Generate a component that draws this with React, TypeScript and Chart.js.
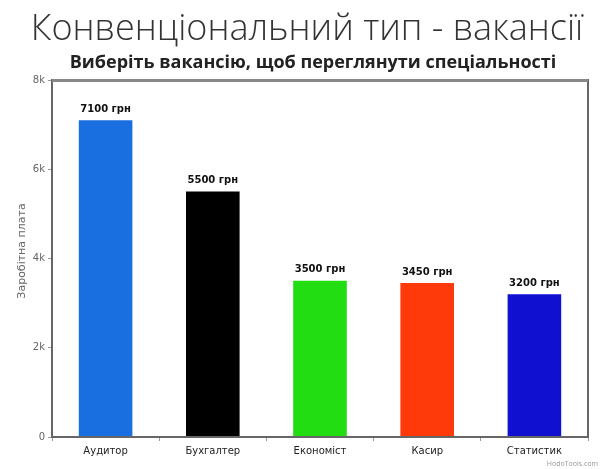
import React, { useEffect, useRef } from "react";
import { Chart, registerables } from "chart.js";

Chart.register(...registerables);

const categories = ["Аудитор", "Бухгалтер", "Економіст", "Касир", "Статистик"];
const salaries = [7100, 5500, 3500, 3450, 3200];
const valueLabels = ["7100 грн", "5500 грн", "3500 грн", "3450 грн", "3200 грн"];
const barColors = ["#1a6fe0", "#000000", "#22dd11", "#ff3a0a", "#1010d0"];
const yTickValues = [0, 2000, 4000, 6000, 8000];
const yTickLabels = ["0", "2k", "4k", "6k", "8k"];
const titleText = "Конвенціональний тип - вакансії";
const subtitleText = "Виберіть вакансію, щоб переглянути спеціальності";
const yAxisTitle = "Заробітна плата";
const footerText = "HodoTools.com";

const decorPlugin = {
  id: "decor",
  afterDraw(chart: any) {
    const { ctx, chartArea } = chart;
    ctx.save();
    // titles
    ctx.textAlign = "center";
    ctx.textBaseline = "alphabetic";
    ctx.fillStyle = "#333333";
    ctx.font = "300 36px 'Open Sans'";
    ctx.fillText(titleText, 307, 40);
    ctx.fillStyle = "#222222";
    ctx.font = "bold 18px 'Open Sans'";
    ctx.fillText(subtitleText, 313, 68);
    // frame
    ctx.strokeStyle = "#666666";
    ctx.lineWidth = 2;
    ctx.strokeRect(chartArea.left, chartArea.top, chartArea.right - chartArea.left, chartArea.bottom - chartArea.top);
    ctx.fillStyle = "#888888";
    ctx.fillRect(chartArea.left, chartArea.top - 1, chartArea.right - chartArea.left, 3);
    // value labels
    const meta = chart.getDatasetMeta(0);
    ctx.fillStyle = "#111111";
    ctx.font = "bold 10px 'DejaVu Sans'";
    ctx.textBaseline = "bottom";
    meta.data.forEach((bar: any, i: number) => {
      ctx.fillText(valueLabels[i], bar.x, bar.y - 6);
    });
    // y axis title
    ctx.save();
    ctx.translate(22, 251);
    ctx.rotate(-Math.PI / 2);
    ctx.textBaseline = "middle";
    ctx.fillStyle = "#666666";
    ctx.font = "11px 'DejaVu Sans'";
    ctx.fillText(yAxisTitle, 0, 0);
    ctx.restore();
    // footer
    ctx.textAlign = "right";
    ctx.textBaseline = "middle";
    ctx.fillStyle = "#999999";
    ctx.font = "7px 'Open Sans'";
    ctx.fillText(footerText, 598, 464);
    ctx.restore();
  },
};

export default function App() {
  const ref = useRef<HTMLCanvasElement>(null);
  useEffect(() => {
    document.body.style.margin = "0";
    const chart = new Chart(ref.current!, {
      type: "bar",
      data: {
        labels: categories,
        datasets: [
          {
            data: salaries,
            backgroundColor: barColors,
            categoryPercentage: 1,
            barPercentage: 0.5,
          },
        ],
      },
      options: {
        animation: false,
        responsive: false,
        devicePixelRatio: 1,
        layout: { padding: { top: 80, right: 13, left: 0, bottom: 0 } },
        plugins: { legend: { display: false }, tooltip: { enabled: false } },
        scales: {
          x: {
            offset: true,
            grid: { display: true, drawOnChartArea: false, tickLength: 4, color: "#999" },
            border: { display: true, color: "#666" },
            ticks: { color: "#222", font: { family: "'DejaVu Sans'", size: 10 }, padding: 4 },
            afterFit(scale: any) {
              scale.height = 32;
            },
          },
          y: {
            min: 0,
            max: 8000,
            afterBuildTicks(scale: any) {
              scale.ticks = yTickValues.map((v) => ({ value: v }));
            },
            grid: { display: true, drawOnChartArea: false, tickLength: 4, color: "#999" },
            border: { display: true, color: "#666" },
            ticks: {
              color: "#666",
              font: { family: "'DejaVu Sans'", size: 10 },
              padding: 3,
              callback: (v: any) => yTickLabels[yTickValues.indexOf(Number(v))],
            },
            afterFit(scale: any) {
              scale.width = 52;
            },
          },
        },
      },
      plugins: [decorPlugin],
    });
    return () => chart.destroy();
  }, []);
  return <canvas ref={ref} width={601} height={469} />;
}
